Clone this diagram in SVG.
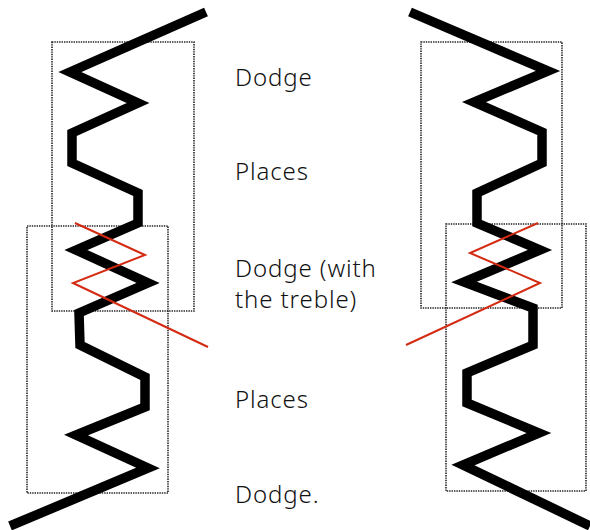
<svg xmlns="http://www.w3.org/2000/svg" width="590" height="530" viewBox="0 0 590 530">
<style>
.rope{fill:none;stroke:#000;stroke-width:9.5;stroke-linejoin:miter;stroke-miterlimit:10}
.treble{fill:none;stroke:#d42a12;stroke-width:2}
.box{fill:none;stroke:#222;stroke-width:1.6;stroke-dasharray:1.4 1}
.lbl{font-family:"Noto Sans","DejaVu Sans",sans-serif;font-size:24px;font-weight:300;letter-spacing:0.9px;fill:#111}
</style>
<rect width="590" height="530" fill="#fff"/>
<g id="boxes">
<rect class="box" x="52" y="42" width="142" height="269"/>
<rect class="box" x="27" y="226" width="141" height="267"/>
<rect class="box" x="421" y="42" width="141" height="266"/>
<rect class="box" x="446" y="224" width="140" height="267"/>
</g>
<g id="connectors">
<polyline id="left-rope" class="rope" points="206,12 70,72 138,103 72,133 72,163 138,193 138,223 76,250 148,283 79,313 80,345 145,377 145,407 76,435 148,468 10,526"/>
<polyline id="right-rope" class="rope" points="410,12 548,71 474,102 542,132 542,163 477,193 477,223 540,250 464,282 533,308 533,345 467,373 467,403 539,433 463,465 590,526"/>
<polyline id="left-treble" class="treble" points="75,223 145,255 73,283 208,347"/>
<polyline id="right-treble" class="treble" points="538,223 470,253 540,283 406,345"/>
</g>
<g id="labels">
<text class="lbl" x="235" y="86">Dodge</text>
<text class="lbl" x="235" y="180">Places</text>
<text class="lbl" x="235" y="277">Dodge (with</text>
<text class="lbl" x="235" y="308">the treble)</text>
<text class="lbl" x="235" y="408">Places</text>
<text class="lbl" x="235" y="503">Dodge.</text>
</g>
</svg>
